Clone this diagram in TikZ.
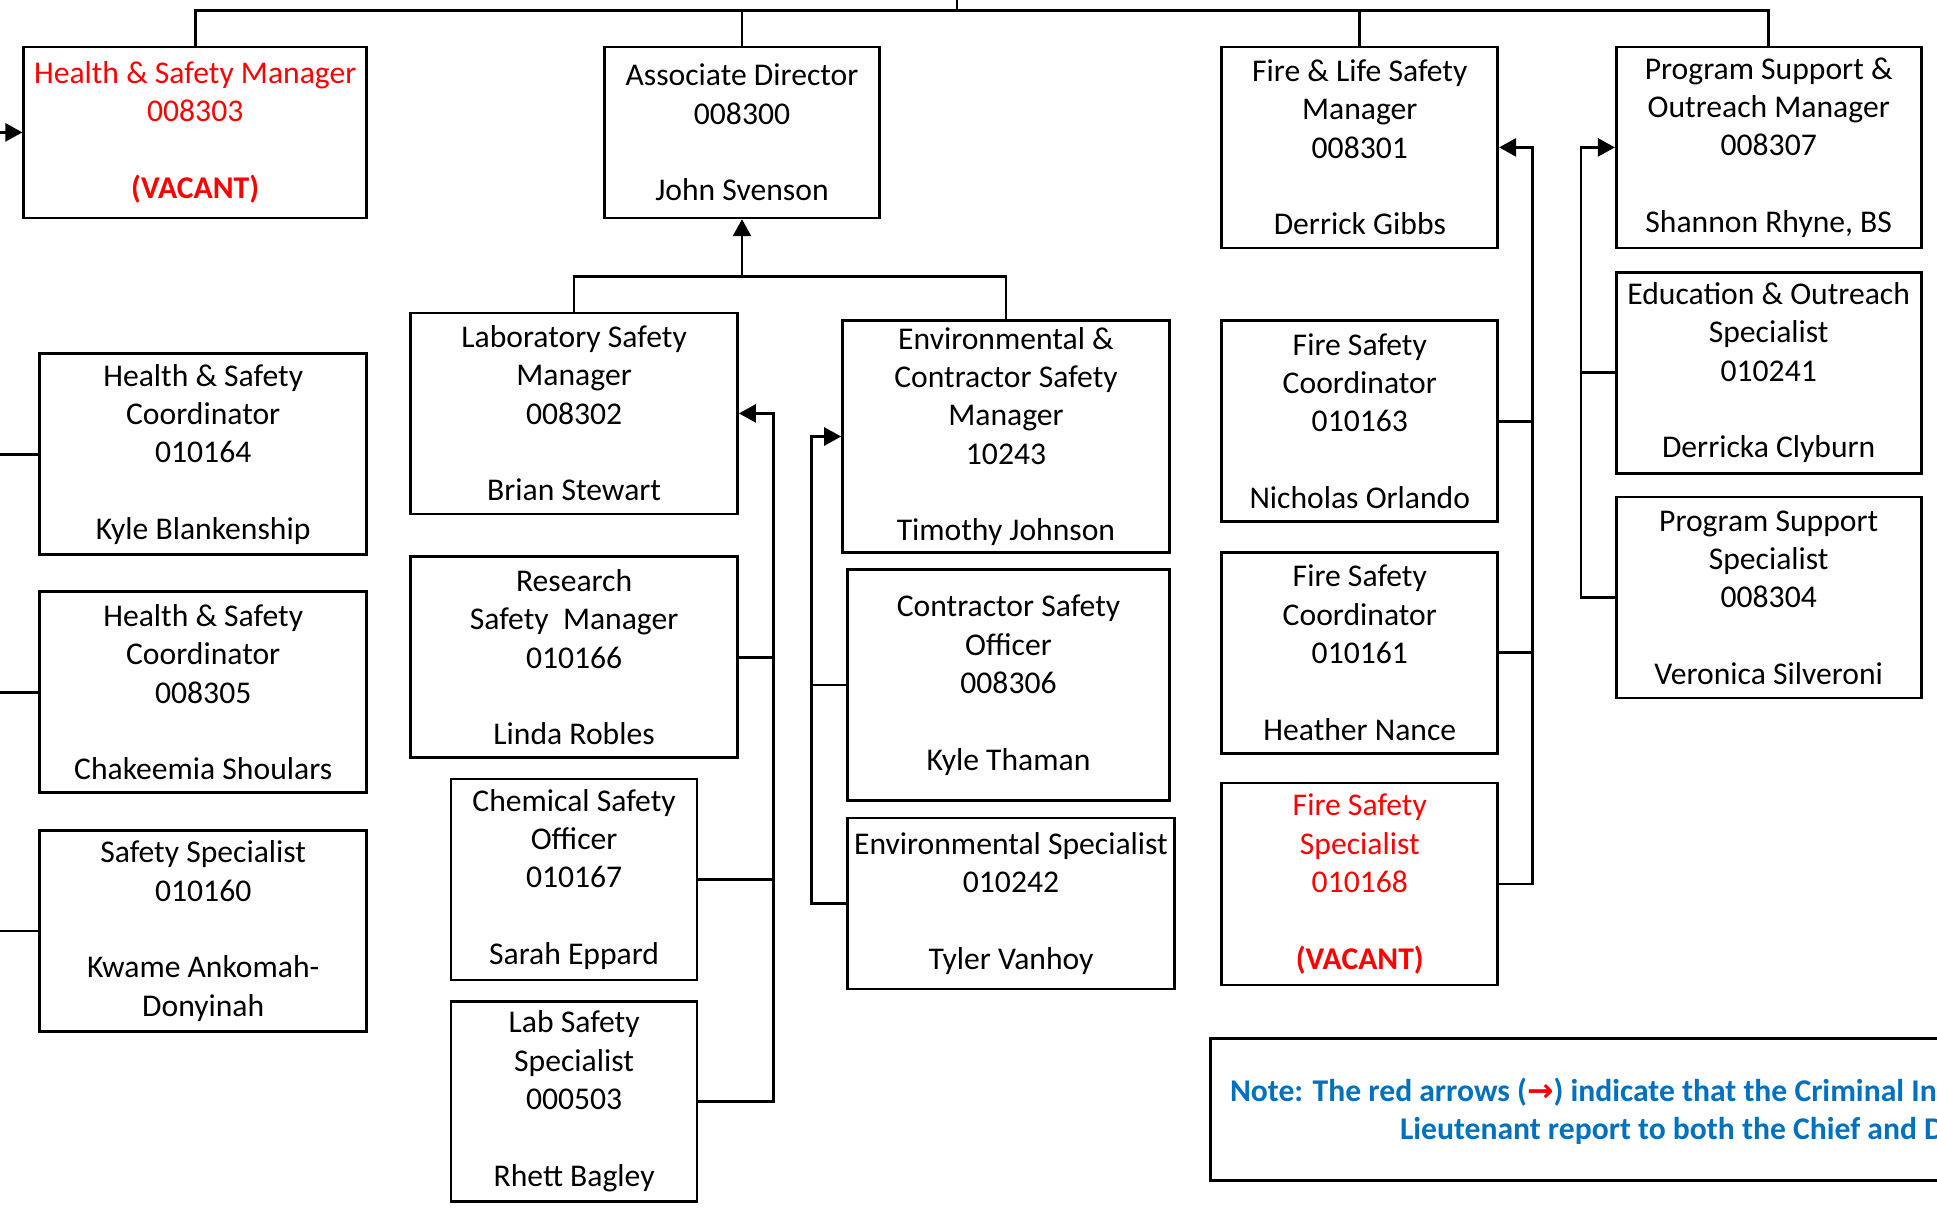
\documentclass[tikz,border=0pt]{standalone}
\usepackage{fontspec}
\setmainfont{Carlito}
\newfontfamily\arrowfont{DejaVu Sans}
\usetikzlibrary{arrows.meta}
\definecolor{noteblue}{RGB}{0,112,192}
\tikzset{
  posbox/.style={draw, line width=0.75pt, align=center, inner sep=0pt, font=\fontsize{9}{10.9}\selectfont},
  vacant/.style={text=red},
  notetext/.style={anchor=west, inner sep=0pt, text=noteblue, font=\fontsize{9}{10.9}\selectfont\bfseries},
}
\begin{document}
\begin{tikzpicture}[x=0.1mm, y=-0.1mm, >={Triangle[length=1.7mm,width=1.8mm]}, line width=0.75pt]
\useasboundingbox (0,0) rectangle (1937,1211);
\clip (0,0) rectangle (1937,1211);
% top row
\node[posbox, vacant, minimum width=34.3mm, minimum height=17.1mm] (hsm) at (195.2,132.4) {Health \& Safety Manager\\008303\\[10.9pt]\textbf{(VACANT)}};
\node[posbox, minimum width=27.5mm, minimum height=17.1mm] (ad) at (742,132.4) {Associate Director\\008300\\[10.9pt]John Svenson};
\node[posbox, minimum width=27.6mm, minimum height=20.1mm] (flsm) at (1359.8,147.4) {Fire \& Life Safety\\Manager\\008301\\[10.9pt]Derrick Gibbs};
\node[posbox, minimum width=30.5mm, minimum height=20.1mm] (psom) at (1768.7,147.4) {Program Support \&\\Outreach Manager\\008307\\[10.9pt]Shannon Rhyne, BS};
% health & safety column
\node[posbox, minimum width=32.7mm, minimum height=20.1mm] (hsc1) at (203.2,454.3) {Health \& Safety\\Coordinator\\010164\\[10.9pt]Kyle Blankenship};
\node[posbox, minimum width=32.7mm, minimum height=20.1mm] (hsc2) at (203.2,692.2) {Health \& Safety\\Coordinator\\008305\\[10.9pt]Chakeemia Shoulars};
\node[posbox, minimum width=32.7mm, minimum height=20.1mm] (ss) at (203.2,931.1) {Safety Specialist\\010160\\[10.9pt]Kwame Ankomah-\\Donyinah};
% lab column
\node[posbox, minimum width=32.7mm, minimum height=20.1mm] (lsm) at (574.1,413.4) {Laboratory Safety\\Manager\\008302\\[10.9pt]Brian Stewart};
\node[posbox, minimum width=32.7mm, minimum height=20.1mm] (rsm) at (574.1,657.3) {Research\\Safety~~Manager\\010166\\[10.9pt]Linda Robles};
\node[posbox, minimum width=24.6mm, minimum height=20.1mm] (cso) at (574.1,879.5) {Chemical Safety\\Officer\\010167\\[10.9pt]Sarah Eppard};
\node[posbox, minimum width=24.6mm, minimum height=20.0mm] (lss) at (574.1,1101.2) {Lab Safety\\Specialist\\000503\\[10.9pt]Rhett Bagley};
% environmental column
\node[posbox, minimum width=32.7mm, minimum height=23.2mm] (ecsm) at (1006,436.5) {Environmental \&\\Contractor Safety\\Manager\\10243\\[10.9pt]Timothy Johnson};
\node[posbox, minimum width=32.2mm, minimum height=23.1mm] (conso) at (1008.5,685.1) {Contractor Safety\\Officer\\008306\\[10.9pt]Kyle Thaman};
\node[posbox, minimum width=32.7mm, minimum height=17.1mm] (envsp) at (1011,903.6) {Environmental Specialist\\010242\\[10.9pt]Tyler Vanhoy};
% fire column
\node[posbox, minimum width=27.6mm, minimum height=20.1mm] (fsc1) at (1359.8,421.2) {Fire Safety\\Coordinator\\010163\\[10.9pt]Nicholas Orlando};
\node[posbox, minimum width=27.6mm, minimum height=20.1mm] (fsc2) at (1359.8,652.7) {Fire Safety\\Coordinator\\010161\\[10.9pt]Heather Nance};
\node[posbox, vacant, minimum width=27.6mm, minimum height=20.2mm] (fss) at (1359.8,884.1) {Fire Safety\\Specialist\\010168\\[10.9pt]\textbf{(VACANT)}};
% program column
\node[posbox, minimum width=30.5mm, minimum height=20.1mm] (eos) at (1768.7,372.8) {Education \& Outreach\\Specialist\\010241\\[10.9pt]Derricka Clyburn};
\node[posbox, minimum width=30.5mm, minimum height=20.1mm] (pss) at (1768.7,597.5) {Program Support\\Specialist\\008304\\[10.9pt]Veronica Silveroni};

% connectors
\coordinate (topin) at (957,0);
\coordinate (topbus) at (957,10.7);
\coordinate (adbus) at (742,276.3);
\coordinate (labspine) at (773.3,413.4);
\coordinate (envspine) at (811.6,436.5);
\coordinate (firespine) at (1532.2,147.4);
\coordinate (progspine) at (1581,147.4);
\coordinate (hsin) at (0,132.4);
\draw (topin) -- (topbus);
\draw (hsm.north) |- (topbus) -| (psom.north);
\draw (ad.north) -- (ad.north |- topbus);
\draw (flsm.north) -- (flsm.north |- topbus);
\draw[->] (hsin) -- (hsm.west);
\draw (hsc1.west) -- (hsc1.west -| hsin);
\draw (hsc2.west) -- (hsc2.west -| hsin);
\draw (ss.west) -- (ss.west -| hsin);
\draw (lsm.north) |- (adbus) -| (ecsm.north);
\draw[->] (adbus) -- (ad.south);
\draw[->] (lss.east) -| (labspine) -- (lsm.east);
\draw (rsm.east) -- (rsm.east -| labspine);
\draw (cso.east) -- (cso.east -| labspine);
\draw[->] (envsp.west) -| (envspine) -- (ecsm.west);
\draw (conso.west) -- (conso.west -| envspine);
\draw[->] (fss.east) -| (firespine) -- (flsm.east);
\draw (fsc1.east) -- (fsc1.east -| firespine);
\draw (fsc2.east) -- (fsc2.east -| firespine);
\draw[->] (pss.west) -| (progspine) -- (psom.west);
\draw (eos.west) -- (eos.west -| progspine);

% note
\draw[line width=1pt] (1210.3,1038.4) rectangle (1990,1180.6);
\node[notetext] (note1) at (1228.8,1091.8) {Note: The red arrows ({\color{red}\arrowfont\bfseries →}) indicate that the Criminal In};
\node[notetext] (note2) at (1398.7,1130.8) {Lieutenant report to both the Chief and D};
\end{tikzpicture}
\end{document}
